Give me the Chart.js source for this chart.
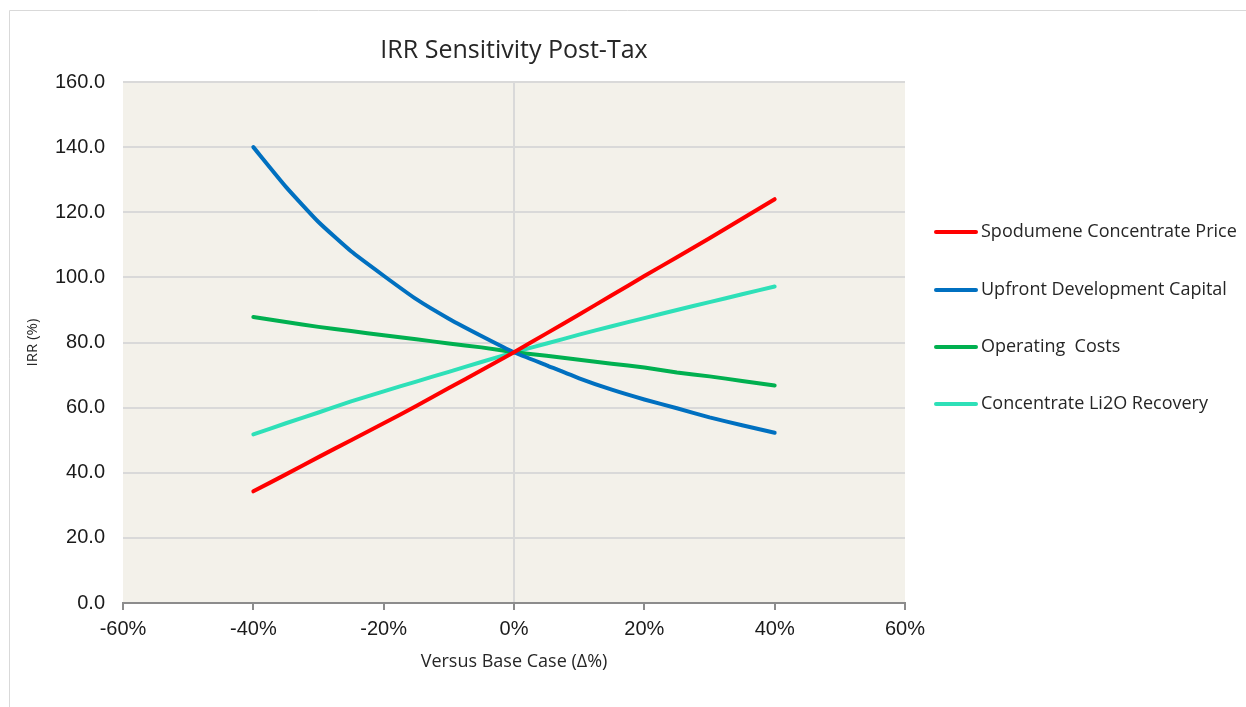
<!DOCTYPE html>
<html>
<head>
<meta charset="utf-8">
<script src="https://cdn.jsdelivr.net/npm/chart.js@4.4.0/dist/chart.umd.min.js"></script>
<style>
  html, body { margin: 0; padding: 0; background: #ffffff; }
  #wrap { width: 1246px; height: 707px; position: relative; }
</style>
</head>
<body>
<div id="wrap"><canvas id="c" width="1246" height="707"></canvas></div>
<script>
// Change versus base case (%)
const deltas = [-40, -35, -30, -25, -20, -15, -10, -5, 0, 5, 10, 15, 20, 25, 30, 35, 40];

// Post-tax IRR (%) for each sensitivity
const spodumenePrice = [34.3, 39.5, 44.8, 50.0, 55.2, 60.5, 66.0, 71.5, 77.0, 82.8, 88.6, 94.5, 100.4, 106.2, 112.0, 118.0, 124.0];
const upfrontCapital = [140.0, 127.8, 117.0, 108.0, 100.5, 93.3, 87.3, 82.0, 77.0, 73.0, 69.0, 65.5, 62.5, 59.8, 57.0, 54.6, 52.3];
const operatingCosts = [87.8, 86.3, 84.8, 83.5, 82.2, 81.0, 79.7, 78.5, 77.0, 75.9, 74.7, 73.5, 72.3, 70.8, 69.6, 68.2, 66.8];
const li2oRecovery   = [51.8, 55.2, 58.5, 61.9, 65.0, 68.0, 71.0, 74.0, 77.0, 79.7, 82.4, 85.0, 87.5, 90.0, 92.4, 94.8, 97.2];

const seriesNames = ['Spodumene Concentrate Price', 'Upfront Development Capital', 'Operating  Costs', 'Concentrate Li2O Recovery'];
const seriesColors = ['#ff0000', '#0070c0', '#00b050', '#2ee0b8'];
const seriesValues = [spodumenePrice, upfrontCapital, operatingCosts, li2oRecovery];

const xTickMin = -60, xTickMax = 60, xTickStep = 20;
const yTickMin = 0, yTickMax = 160, yTickStep = 20;

const chartTitle = 'IRR Sensitivity Post-Tax';
const xAxisTitle = 'Versus Base Case (\u0394%)';
const yAxisTitle = 'IRR (%)';

const datasets = seriesNames.map((name, i) => ({
  label: name,
  data: deltas.map((d, j) => ({ x: d, y: seriesValues[i][j] })),
  borderColor: seriesColors[i],
  backgroundColor: seriesColors[i],
  borderWidth: 4,
  borderCapStyle: 'round',
  borderJoinStyle: 'round',
  pointRadius: 0,
  tension: 0.15,
  fill: false
}));

// Plot background, outer frame, titles and the legend on the right
const decor = {
  id: 'decor',
  beforeDraw(chart) {
    const { ctx, chartArea: a } = chart;
    ctx.save();
    ctx.fillStyle = '#f3f1ea';
    ctx.fillRect(a.left, a.top, a.right - a.left, a.bottom - a.top);
    ctx.strokeStyle = '#d9d9d9';
    ctx.lineWidth = 1;
    ctx.beginPath();
    ctx.moveTo(9.5, 707);
    ctx.lineTo(9.5, 10.5);
    ctx.lineTo(1246, 10.5);
    ctx.stroke();
    ctx.restore();
  },
  afterDraw(chart) {
    const { ctx, chartArea: a } = chart;
    const cx = (a.left + a.right) / 2;
    ctx.save();
    ctx.fillStyle = '#262626';
    ctx.textAlign = 'center';
    ctx.textBaseline = 'middle';
    ctx.font = '25px "Open Sans", "Noto Sans", sans-serif';
    ctx.fillText(chartTitle, cx, 51);
    ctx.font = '18px "Open Sans", "Noto Sans", sans-serif';
    ctx.fillText(xAxisTitle, cx, 662);
    ctx.translate(33, (a.top + a.bottom) / 2);
    ctx.rotate(-Math.PI / 2);
    ctx.font = '15px "Open Sans", "Noto Sans", sans-serif';
    ctx.fillText(yAxisTitle, 0, 0);
    ctx.restore();

    ctx.save();
    ctx.font = '18px "Open Sans", "Noto Sans", sans-serif';
    ctx.textAlign = 'left';
    ctx.textBaseline = 'middle';
    const legendY = [232, 290, 347, 404];
    chart.data.datasets.forEach((ds, i) => {
      const y = legendY[i];
      ctx.strokeStyle = ds.borderColor;
      ctx.lineWidth = 4;
      ctx.lineCap = 'round';
      ctx.beginPath();
      ctx.moveTo(936, y);
      ctx.lineTo(976, y);
      ctx.stroke();
      ctx.fillStyle = '#262626';
      ctx.fillText(ds.label, 981, y);
    });
    ctx.restore();
  }
};

new Chart(document.getElementById('c'), {
  type: 'line',
  data: { datasets },
  options: {
    responsive: false,
    animation: false,
    layout: { padding: { left: 0, top: 82, right: 341, bottom: 0 } },
    plugins: { legend: { display: false }, title: { display: false }, tooltip: { enabled: false } },
    scales: {
      x: {
        type: 'linear',
        min: xTickMin,
        max: xTickMax,
        afterFit(scale) { scale.height = 104; },
        afterBuildTicks(scale) {
          const t = [];
          for (let v = xTickMin; v <= xTickMax; v += xTickStep) t.push({ value: v });
          scale.ticks = t;
        },
        border: { display: true, color: '#8c8c8c', width: 2 },
        grid: {
          drawOnChartArea: true,
          color: (c) => (c.tick && c.tick.value === 0 ? '#d9d9d9' : 'rgba(0,0,0,0)'),
          lineWidth: 2,
          tickColor: '#8c8c8c',
          tickLength: 7,
          tickWidth: 2
        },
        ticks: {
          color: '#1a1a1a',
          font: { family: '"Liberation Sans", Arial, sans-serif', size: 20 },
          padding: 7,
          maxRotation: 0,
          callback: (v) => v + '%'
        }
      },
      y: {
        min: yTickMin,
        max: yTickMax,
        afterFit(scale) { scale.width = 123; },
        border: { display: false },
        grid: { color: '#d9d9d9', lineWidth: 2, drawTicks: false },
        ticks: {
          stepSize: yTickStep,
          color: '#1a1a1a',
          font: { family: '"Liberation Sans", Arial, sans-serif', size: 20 },
          padding: 18,
          callback: (v) => v.toFixed(1)
        }
      }
    }
  },
  plugins: [decor]
});
</script>
</body>
</html>
